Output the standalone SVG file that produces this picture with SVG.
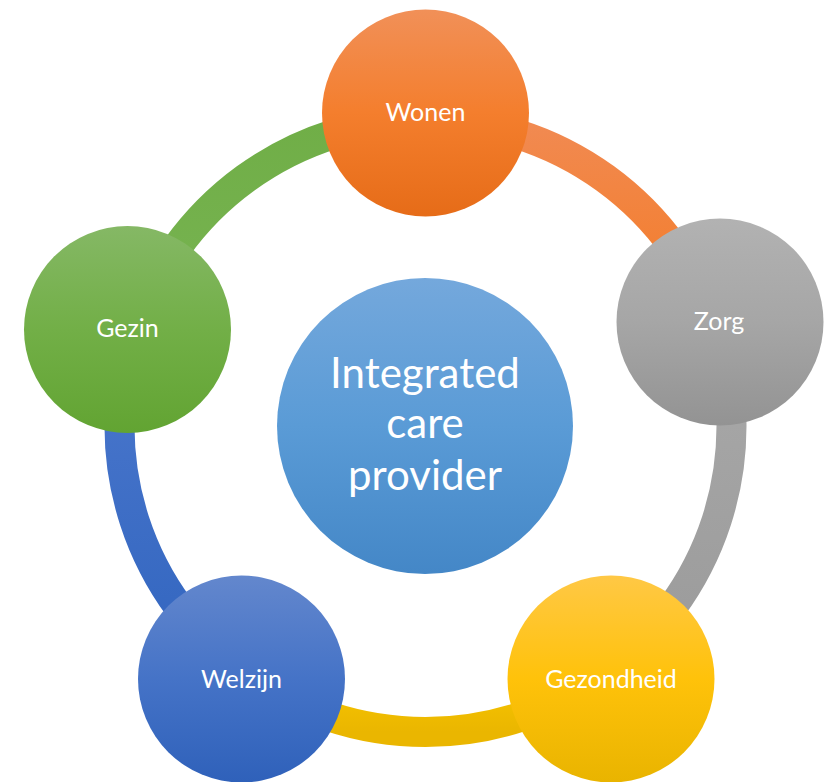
<svg xmlns="http://www.w3.org/2000/svg" width="827" height="782" viewBox="0 0 827 782">
  <style>
    .arc { fill: none; stroke-width: 30; }
    .lbl { font-family: Lato, "Liberation Sans", Arial, sans-serif; font-size: 25px; fill: #ffffff; text-anchor: middle; }
    .big { font-family: Lato, "Liberation Sans", Arial, sans-serif; font-size: 42px; fill: #ffffff; text-anchor: middle; }
  </style>
  <defs>
    <linearGradient id="gOrange" x1="0" y1="0" x2="0" y2="1"><stop offset="0" stop-color="#F19058"/><stop offset="0.5" stop-color="#F47E2D"/><stop offset="1" stop-color="#E66C18"/></linearGradient>
    <linearGradient id="gGray" x1="0" y1="0" x2="0" y2="1"><stop offset="0" stop-color="#B2B2B2"/><stop offset="0.5" stop-color="#A6A6A6"/><stop offset="1" stop-color="#939393"/></linearGradient>
    <linearGradient id="gYellow" x1="0" y1="0" x2="0" y2="1"><stop offset="0" stop-color="#FFC845"/><stop offset="0.5" stop-color="#FFC20A"/><stop offset="1" stop-color="#E9B400"/></linearGradient>
    <linearGradient id="gBlue" x1="0" y1="0" x2="0" y2="1"><stop offset="0" stop-color="#6387CD"/><stop offset="0.5" stop-color="#4573C7"/><stop offset="1" stop-color="#2F61BA"/></linearGradient>
    <linearGradient id="gGreen" x1="0" y1="0" x2="0" y2="1"><stop offset="0" stop-color="#85B865"/><stop offset="0.5" stop-color="#72AF47"/><stop offset="1" stop-color="#62A432"/></linearGradient>
    <linearGradient id="gCenter" x1="0" y1="0" x2="0" y2="1"><stop offset="0" stop-color="#74A8DC"/><stop offset="0.5" stop-color="#5A9BD6"/><stop offset="1" stop-color="#4487C7"/></linearGradient>
    <linearGradient id="aOrange" x1="0" y1="0" x2="0" y2="1"><stop offset="0" stop-color="#F18A52"/><stop offset="1" stop-color="#F47A22"/></linearGradient>
    <linearGradient id="aGray" x1="0" y1="0" x2="0" y2="1"><stop offset="0" stop-color="#A9A9A9"/><stop offset="1" stop-color="#9A9A9A"/></linearGradient>
    <linearGradient id="aYellow" x1="0" y1="0" x2="0" y2="1"><stop offset="0" stop-color="#FAC700"/><stop offset="1" stop-color="#EAB600"/></linearGradient>
    <linearGradient id="aBlue" x1="0" y1="0" x2="0" y2="1"><stop offset="0" stop-color="#4C78CD"/><stop offset="1" stop-color="#3165BF"/></linearGradient>
    <linearGradient id="aGreen" x1="0" y1="0" x2="0" y2="1"><stop offset="0" stop-color="#70AE47"/><stop offset="1" stop-color="#78B452"/></linearGradient>
  </defs>
  <g id="connectors">
    <path class="arc" stroke="url(#aOrange)" d="M425.5,120 A306,306 0 0 1 716.5,331.4"/>
    <path class="arc" stroke="url(#aGray)" d="M716.5,331.4 A306,306 0 0 1 605.4,673.6"/>
    <path class="arc" stroke="url(#aYellow)" d="M605.4,673.6 A306,306 0 0 1 245.6,673.6"/>
    <path class="arc" stroke="url(#aBlue)" d="M245.6,673.6 A306,306 0 0 1 134.5,331.4"/>
    <path class="arc" stroke="url(#aGreen)" d="M134.5,331.4 A306,306 0 0 1 425.5,120"/>
  </g>
  <g id="center">
    <circle cx="425" cy="426" r="148" fill="url(#gCenter)"/>
    <text class="big" x="425" y="388">Integrated</text>
    <text class="big" x="425" y="438">care</text>
    <text class="big" x="425" y="490">provider</text>
  </g>
  <g id="wonen">
    <circle cx="425.5" cy="113" r="103.5" fill="url(#gOrange)"/>
    <text class="lbl" x="425.5" y="121">Wonen</text>
  </g>
  <g id="zorg">
    <circle cx="720" cy="322" r="103.5" fill="url(#gGray)"/>
    <text class="lbl" x="719" y="330">Zorg</text>
  </g>
  <g id="gezondheid">
    <circle cx="611" cy="679" r="103.5" fill="url(#gYellow)"/>
    <text class="lbl" x="611" y="688">Gezondheid</text>
  </g>
  <g id="welzijn">
    <circle cx="241.5" cy="679" r="103.5" fill="url(#gBlue)"/>
    <text class="lbl" x="241.5" y="688">Welzijn</text>
  </g>
  <g id="gezin">
    <circle cx="127.5" cy="329.5" r="103.5" fill="url(#gGreen)"/>
    <text class="lbl" x="127.5" y="337">Gezin</text>
  </g>
</svg>
